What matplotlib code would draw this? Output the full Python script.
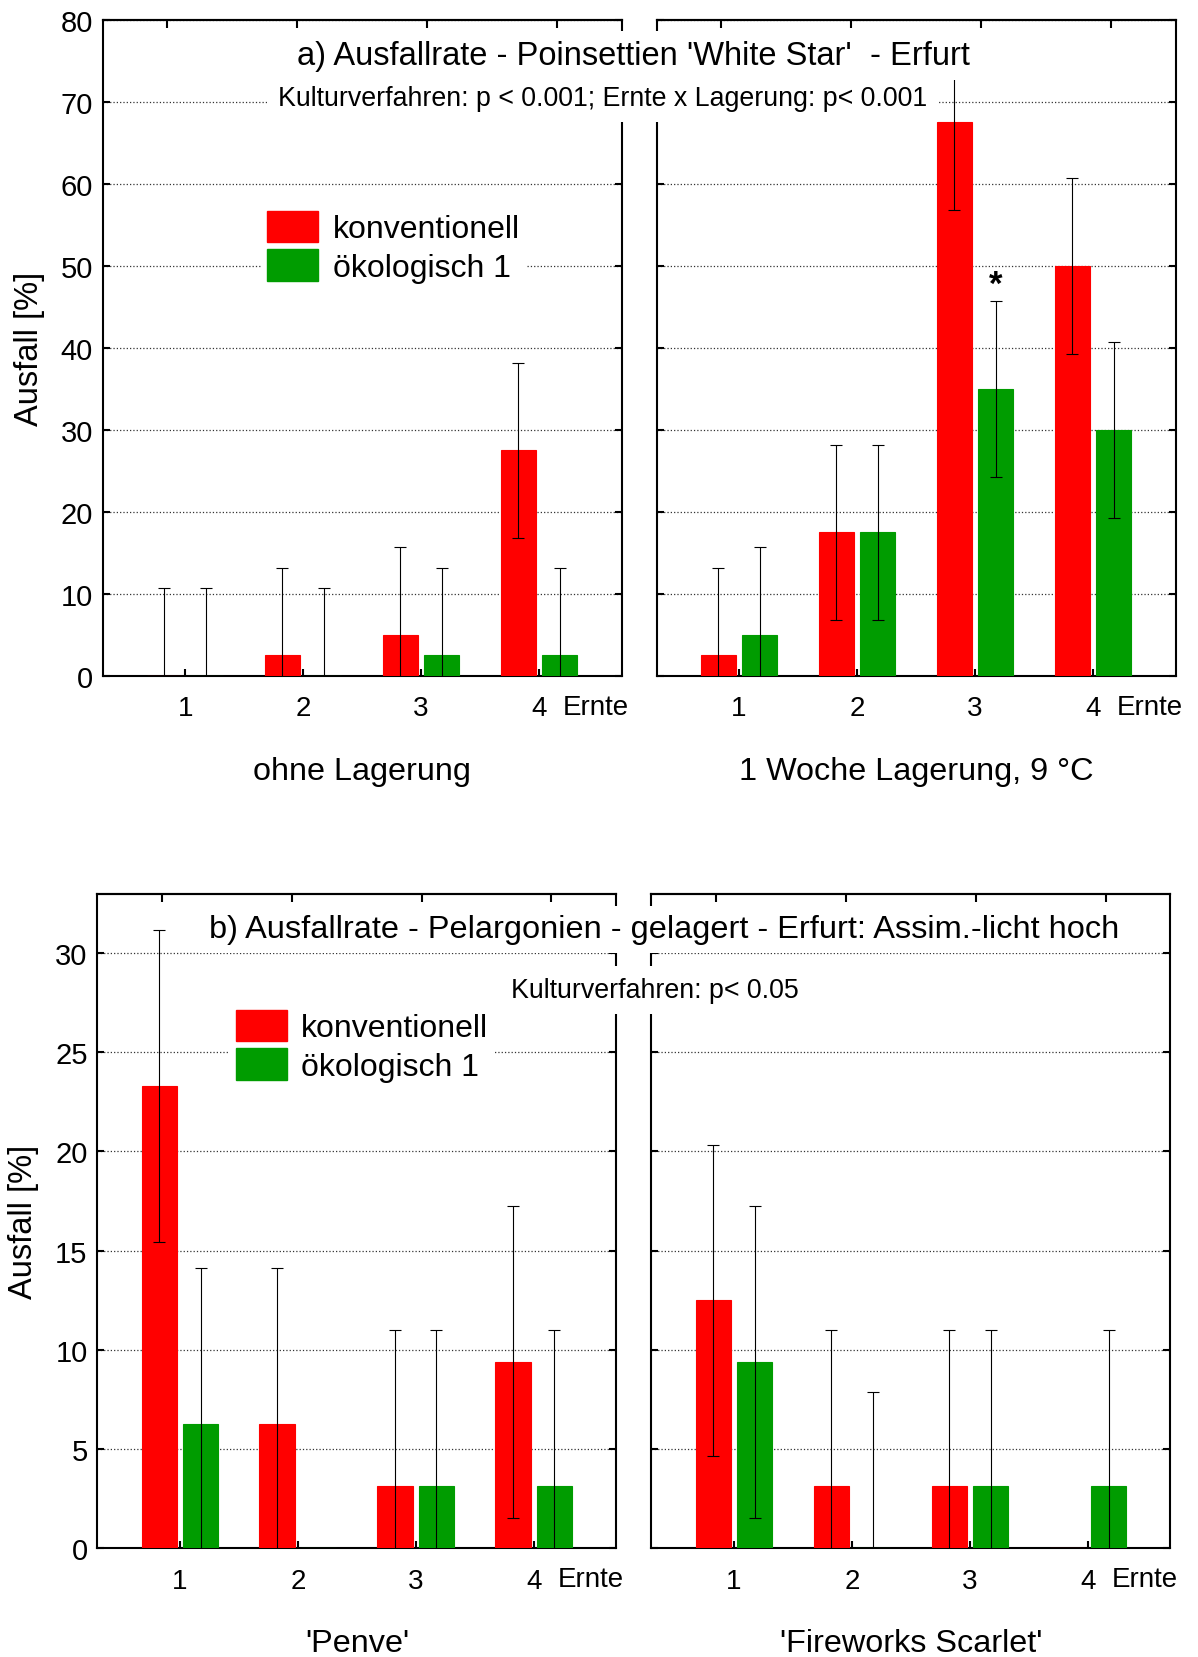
import numpy as np
import matplotlib
matplotlib.use("Agg")
import matplotlib.pyplot as plt
from matplotlib.patches import Patch

plt.rcParams['font.family'] = ['Liberation Sans', 'DejaVu Sans']

RED = '#ff0000'
GREEN = '#009c00'

ernte = [1, 2, 3, 4]

# a) Poinsettien 'White Star' - Ausfall [%]
a_ohne_konv = [0.0, 2.5, 5.0, 27.5]
a_ohne_konv_err = [10.7, 10.7, 10.7, 10.7]
a_ohne_oeko = [0.0, 0.0, 2.5, 2.5]
a_ohne_oeko_err = [10.7, 10.7, 10.7, 10.7]
a_lager_konv = [2.5, 17.5, 67.5, 50.0]
a_lager_konv_err = [10.7, 10.7, 10.7, 10.7]
a_lager_oeko = [5.0, 17.5, 35.0, 30.0]
a_lager_oeko_err = [10.7, 10.7, 10.7, 10.7]

# b) Pelargonien gelagert - Ausfall [%]  (0 err = no error bar)
b_penve_konv = [23.3, 6.25, 3.125, 9.375]
b_penve_konv_err = [7.85, 7.85, 7.85, 7.85]
b_penve_oeko = [6.25, 0.0, 3.125, 3.125]
b_penve_oeko_err = [7.85, 0.0, 7.85, 7.85]
b_fire_konv = [12.5, 3.125, 3.125, 0.0]
b_fire_konv_err = [7.85, 7.85, 7.85, 0.0]
b_fire_oeko = [9.375, 0.0, 3.125, 3.125]
b_fire_oeko_err = [7.85, 7.85, 7.85, 7.85]

top_ticks = [0.85, 1.95, 3.05, 4.15]

W = 0.3
OFF = 0.175


def draw_errors(ax, xs, vals, errs):
    for x, v, e in zip(xs, vals, errs):
        if e > 0:
            ax.errorbar(x, v, yerr=e, fmt='none', ecolor='black', elinewidth=0.8,
                        capsize=4.5, capthick=0.8, zorder=4)


def draw_panel(ax, konv, konv_err, oeko, oeko_err, ymax, ystep, xlabel, ylabels=True):
    x = np.array(ernte, dtype=float)
    ax.bar(x - OFF, konv, W, color=RED, edgecolor=RED, linewidth=0.8, zorder=3)
    ax.bar(x + OFF, oeko, W, color=GREEN, edgecolor=GREEN, linewidth=0.8, zorder=3)
    draw_errors(ax, x - OFF, konv, konv_err)
    draw_errors(ax, x + OFF, oeko, oeko_err)

    ax.set_xlim(0.3, 4.7)
    ax.set_ylim(0, ymax)
    ax.set_yticks(np.arange(0, ymax + 0.01, ystep))
    ax.set_xticks(ernte)
    ax.set_axisbelow(True)
    ax.yaxis.grid(True, linestyle=':', color='#333333', linewidth=0.9)

    for s in ax.spines.values():
        s.set_linewidth(1.5)
    ax.tick_params(axis='y', direction='in', left=True, right=True, length=5,
                   width=1.5, labelsize=21, pad=7, labelleft=ylabels)
    ax.tick_params(axis='x', direction='in', bottom=True, top=False, length=5,
                   width=1.5, labelsize=20, pad=14)
    sec = ax.secondary_xaxis('top')
    sec.set_xticks(top_ticks)
    sec.tick_params(direction='in', length=6, width=1.5, labeltop=False)
    sec.spines['top'].set_linewidth(1.5)

    ax.text(4.2, -0.047, 'Ernte', transform=ax.get_xaxis_transform(),
            ha='left', va='center', fontsize=20)
    ax.text(0.5, -0.145, xlabel, transform=ax.transAxes,
            ha='center', va='center', fontsize=23.3)


fig = plt.figure(figsize=(11.98, 16.58), dpi=100)

ax_a1 = fig.add_axes([0.0856, 0.5917, 0.4333, 0.3957])
ax_a2 = fig.add_axes([0.548, 0.5917, 0.4333, 0.3957])
ax_b1 = fig.add_axes([0.0812, 0.0657, 0.4333, 0.3947])
ax_b2 = fig.add_axes([0.5437, 0.0657, 0.4333, 0.3947])

draw_panel(ax_a1, a_ohne_konv, a_ohne_konv_err, a_ohne_oeko, a_ohne_oeko_err,
           80, 10, 'ohne Lagerung')
draw_panel(ax_a2, a_lager_konv, a_lager_konv_err, a_lager_oeko, a_lager_oeko_err,
           80, 10, '1 Woche Lagerung, 9 °C', ylabels=False)
draw_panel(ax_b1, b_penve_konv, b_penve_konv_err, b_penve_oeko, b_penve_oeko_err,
           33, 5, "'Penve'")
draw_panel(ax_b2, b_fire_konv, b_fire_konv_err, b_fire_oeko, b_fire_oeko_err,
           33, 5, "'Fireworks Scarlet'", ylabels=False)

# y labels, placed by hand so they sit close to the figure edge
fig.text(0.0245, 0.7895, 'Ausfall [%]', rotation=90, ha='center', va='center', fontsize=23.5)
fig.text(0.0200, 0.2630, 'Ausfall [%]', rotation=90, ha='center', va='center', fontsize=23.5)

# significance mark on oekologisch, Ernte 3, stored
ax_a2.text(3 + OFF, a_lager_oeko[2] + a_lager_oeko_err[2] + 2.0, '*',
           ha='center', va='center', fontsize=25, fontweight='bold', zorder=5)

handles = [Patch(facecolor=RED, edgecolor=RED), Patch(facecolor=GREEN, edgecolor=GREEN)]
labels = ['konventionell', 'ökologisch 1']
for ax, anchor in ((ax_a1, (0.305, 0.719)), (ax_b1, (0.254, 0.8325))):
    leg = ax.legend(handles, labels, loc='upper left', bbox_to_anchor=anchor,
                    fontsize=23, frameon=True, fancybox=False, framealpha=1,
                    edgecolor='none', facecolor='white', handlelength=1.6,
                    handleheight=1.15, handletextpad=0.45, labelspacing=0.15,
                    borderpad=0.2, borderaxespad=0)
    leg.set_zorder(6)

box_t = dict(boxstyle='square,pad=0.27', facecolor='white', edgecolor='none')
box_s = dict(boxstyle='square,pad=0.4', facecolor='white', edgecolor='none')

fig.text(0.529, 0.966, "a) Ausfallrate - Poinsettien 'White Star'  - Erfurt",
         ha='center', va='center', fontsize=23.5, bbox=box_t, zorder=10)
fig.text(0.503, 0.94, 'Kulturverfahren: p < 0.001; Ernte x Lagerung: p< 0.001',
         ha='center', va='center', fontsize=19.3, bbox=box_s, zorder=9)
fig.text(0.554, 0.4388, 'b) Ausfallrate - Pelargonien - gelagert - Erfurt: Assim.-licht hoch',
         ha='center', va='center', fontsize=23.4, bbox=box_t, zorder=10)
fig.text(0.547, 0.4023, 'Kulturverfahren: p< 0.05',
         ha='center', va='center', fontsize=19.3, bbox=box_s, zorder=9)

fig.savefig('out.png', dpi=100)
